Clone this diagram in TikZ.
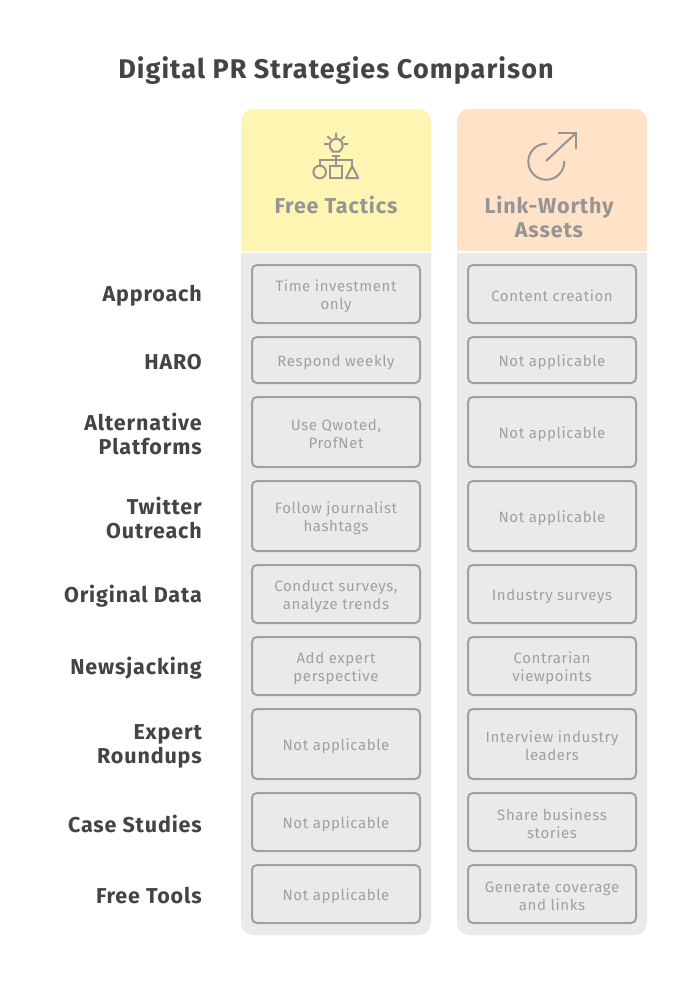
\documentclass[tikz,border=0pt]{standalone}
\usepackage{fontspec}
\setmainfont{Fira Sans}[LetterSpace=4]
\usepackage{xcolor}
\definecolor{titlegray}{HTML}{444444}
\definecolor{headgray}{HTML}{959595}
\definecolor{cellgray}{HTML}{A0A0A0}
\definecolor{cellfill}{HTML}{EAEAEA}
\definecolor{freehead}{HTML}{FFF5B3}
\definecolor{linkhead}{HTML}{FFE2C8}
\tikzset{
    title/.style={text=titlegray,font=\fontsize{27}{32}\selectfont\bfseries},
    rowname/.style={anchor=east,align=right,inner sep=0pt,yshift=-2pt,text=titlegray,font=\fontsize{21.5}{24}\selectfont\bfseries},
    headname/.style={align=center,text=headgray,font=\fontsize{21.5}{24}\selectfont\bfseries},
    cell/.style={draw=cellgray,line width=2pt,rounded corners=5pt,fill=cellfill,minimum width=168pt,inner sep=0pt},
    celltext/.style={align=center,inner sep=0pt,yshift=-2pt,text=cellgray,font=\fontsize{15}{18}\selectfont},
    icon/.style={draw=headgray,line width=2pt}
}
\begin{document}
\begin{tikzpicture}[x=1pt,y=-1pt,cap=round,>=latex]
    \useasboundingbox (0,0) rectangle (696,996);

    % draw the title
    \node[title] (heading) at (336,71) {Digital PR Strategies Comparison};

    % draw the column headers
    \fill[freehead] (241,251) [rounded corners=12pt] -- (241,109) -- (431,109) [sharp corners] -- (431,251) -- cycle;
    \fill[linkhead] (457,251) [rounded corners=12pt] -- (457,109) -- (647,109) [sharp corners] -- (647,251) -- cycle;
    \node[headname] (freename) at (336,205) {Free Tactics};
    \node[headname] (linkname) at (549,217) {Link-Worthy\\Assets};

    % draw the column bodies
    \fill[cellfill] (241,253) -- (241,935) [rounded corners=12pt] -- (241,935) -- (431,935) [sharp corners] -- (431,253) -- cycle;
    \fill[cellfill] (457,253) -- (457,935) [rounded corners=12pt] -- (457,935) -- (647,935) [sharp corners] -- (647,253) -- cycle;

    % draw the bulb icon
    \draw[icon] (332.7,151.7) -- (332.2,150.4) arc[start angle=232,end angle=-52,radius=6.5pt] -- (339.3,151.7) -- cycle;
    \draw[icon] (336,133.3) -- (336,137) (324.5,144) -- (328,144) (344,144) -- (347.5,144)
        (327.7,136.5) -- (330.3,139) (344.3,136.5) -- (341.7,139);
    \draw[icon] (332.7,155.7) -- (339.3,155.7) (336,155.7) -- (336,166.3);
    \draw[icon] (320,166) -- (320,160) -- (352,160) -- (352,166);
    \draw[icon] (319.7,172) circle[radius=6.3pt];
    \draw[icon] (330,166.3) rectangle (342,177.7);
    \draw[icon,line join=round] (346,178) -- (352.2,166.3) -- (358.3,178) -- cycle;

    % draw the circle and arrow icon
    \draw[icon] (546.3,143.7) arc[start angle=90,end angle=360,radius=18pt];
    \draw[icon] (546.3,160.7) -- (575.7,133.3);
    \draw[icon,cap=butt] (558,133.3) -- (575.7,133.3) -- (575.7,149);

    % draw each row
    \foreach \rowid/\cy/\hh/\rowtext/\freetext/\linktext in {
        approach/294/60/Approach/{Time investment\\only}/{Content creation},
        haro/360/48/HARO/{Respond weekly}/{Not applicable},
        platforms/432/72/{Alternative\\Platforms}/{Use Qwoted,\\ProfNet}/{Not applicable},
        twitter/516/72/{Twitter\\Outreach}/{Follow journalist\\hashtags}/{Not applicable},
        data/594/60/{Original Data}/{Conduct surveys,\\analyze trends}/{Industry surveys},
        newsjacking/666/60/Newsjacking/{Add expert\\perspective}/{Contrarian\\viewpoints},
        roundups/744/72/{Expert\\Roundups}/{Not applicable}/{Interview industry\\leaders},
        cases/822/60/{Case Studies}/{Not applicable}/{Share business\\stories},
        tools/894/60/{Free Tools}/{Not applicable}/{Generate coverage\\and links}} {
            \node[rowname] (label\rowid) at (202,\cy) {\rowtext};
            % box first, its text on top
            \node[cell,minimum height=\hh pt-2pt] (free\rowid) at (336,\cy) {};
            \node[celltext] (freetext\rowid) at (free\rowid) {\freetext};
            \node[cell,minimum height=\hh pt-2pt] (link\rowid) at (552,\cy) {};
            \node[celltext] (linktext\rowid) at (link\rowid) {\linktext};
    }
\end{tikzpicture}
\end{document}
